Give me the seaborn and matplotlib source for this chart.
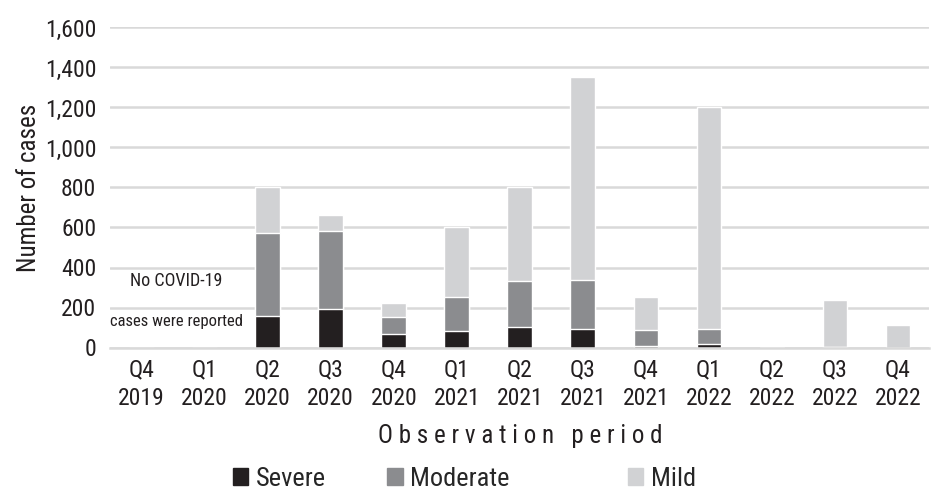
import matplotlib
matplotlib.use('Agg')
import matplotlib.pyplot as plt
import seaborn as sns
import numpy as np
import pandas as pd
from matplotlib import font_manager
from matplotlib.patches import Patch

periods = ['Q4\n2019', 'Q1\n2020', 'Q2\n2020', 'Q3\n2020', 'Q4\n2020', 'Q1\n2021', 'Q2\n2021',
           'Q3\n2021', 'Q4\n2021', 'Q1\n2022', 'Q2\n2022', 'Q3\n2022', 'Q4\n2022']
severe = [0, 0, 160, 195, 70, 85, 105, 95, 8, 18, 0, 1, 0]
moderate = [0, 0, 410, 385, 85, 170, 230, 245, 82, 77, 0, 4, 0]
mild = [0, 0, 230, 80, 70, 345, 465, 1010, 165, 1105, 5, 235, 115]

# pick a narrow font if one is installed
avail = {f.name for f in font_manager.fontManager.ttflist}
font = 'DejaVu Sans'
for cand in ['Liberation Sans Narrow', 'DejaVu Sans Condensed', 'Roboto Condensed', 'Roboto']:
    if cand in avail:
        font = cand
        break

sns.set_style('white')
plt.rcParams['font.family'] = [font, 'DejaVu Sans']

df = pd.DataFrame({'period': periods, 'severe': severe, 'moderate': moderate, 'mild': mild})
df['sev_mod'] = df['severe'] + df['moderate']
df['total'] = df['sev_mod'] + df['mild']

c_sev, c_mod, c_mild = '#231f20', '#8b8c8f', '#d1d2d4'

fig = plt.figure(figsize=(9.34, 5.0), dpi=100)
ax = fig.add_axes([0.118, 0.305, 0.877, 0.64])
ax.set_axisbelow(True)
ax.yaxis.grid(True, color='#d9d9d9', linewidth=1.8)

sns.barplot(data=df, x='period', y='total', color=c_mild, width=0.39, saturation=1, ax=ax)
sns.barplot(data=df, x='period', y='sev_mod', color=c_mod, width=0.39, saturation=1, ax=ax)
sns.barplot(data=df, x='period', y='severe', color=c_sev, width=0.39, saturation=1, ax=ax)

ax.set_ylim(0, 1600)
ax.set_yticks(range(0, 1601, 200))
ax.set_yticklabels([f'{v:,}' for v in range(0, 1601, 200)])
ax.set_xlim(-0.5, len(periods) - 0.5)
for s in ['top', 'right', 'left']:
    ax.spines[s].set_visible(False)
ax.spines['bottom'].set_color('#d9d9d9')
ax.spines['bottom'].set_linewidth(1.8)
ax.tick_params(axis='both', length=0, labelsize=17, colors='#231f20')
ax.tick_params(axis='y', pad=10)
ax.tick_params(axis='x', pad=8)
for lab in ax.get_xticklabels():
    lab.set_linespacing(1.3)

ax.set_ylabel('Number of cases', fontsize=18, color='#231f20', labelpad=3)
ax.set_xlabel('O b s e r v a t i o n   p e r i o d', fontsize=18, color='#231f20', labelpad=10)

ax.text(0.55, 330, 'No COVID-19', ha='center', va='center', fontsize=13, color='#231f20')
ax.text(0.55, 130, 'cases were reported', ha='center', va='center', fontsize=12, color='#231f20')

for x0, lab, col in [(0.249, 'Severe', c_sev), (0.414, 'Moderate', c_mod), (0.672, 'Mild', c_mild)]:
    fig.legend(handles=[Patch(color=col)], labels=[lab], loc='center left',
               bbox_to_anchor=(x0, 0.043), frameon=False, fontsize=19,
               handlelength=0.6, handleheight=0.6, handletextpad=0.3, borderaxespad=0,
               borderpad=0)

fig.savefig('out.png', dpi=100)
